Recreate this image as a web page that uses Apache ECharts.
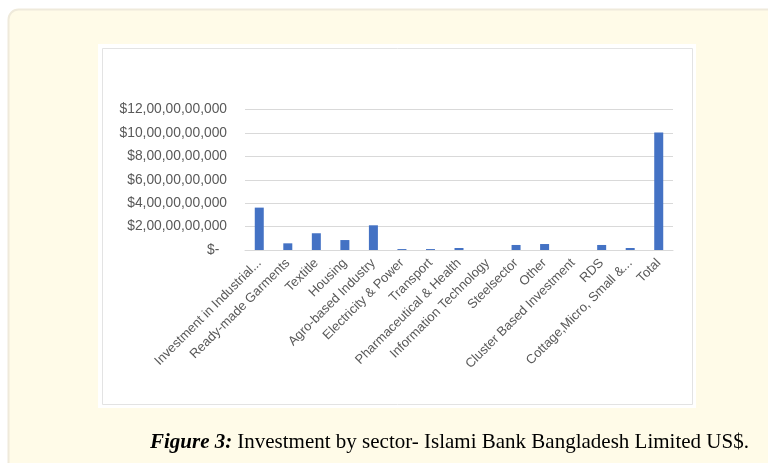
<!DOCTYPE html>
<html><head><meta charset="utf-8">
<script src="https://cdn.jsdelivr.net/npm/echarts@6/dist/echarts.min.js"></script>
<style>html,body{margin:0;padding:0;background:#fff;}#c{width:768px;height:463px;}</style>
</head><body><div id="c"></div>
<script>
const categories = ["Investment in Industrial...","Ready-made Garments","Textitle","Housing","Agro-based Industry","Electricity & Power","Transport","Pharmaceutical & Health","Information Technology","Steelsector","Other","Cluster Based Investment","RDS","Cottage,Micro, Small &...","Total"];
const values = [3620000000, 570000000, 1430000000, 850000000, 2110000000, 80000000, 80000000, 170000000, 0, 430000000, 510000000, 0, 430000000, 170000000, 10030000000];
const yTicks = {min: 0, max: 12000000000, interval: 2000000000};
const captionBold = "Figure 3:";
const captionText = "Investment by sector- Islami Bank Bangladesh Limited US$.";

function indian(n){
  if(n===0) return "$-  ";
  let s = String(Math.round(n));
  let last3 = s.slice(-3), rest = s.slice(0,-3);
  let parts = [];
  while(rest.length>2){ parts.unshift(rest.slice(-2)); rest = rest.slice(0,-2); }
  if(rest.length) parts.unshift(rest);
  return "$" + (parts.length ? parts.join(",") + "," : "") + last3;
}

const chart = echarts.init(document.getElementById('c'), null, {renderer:'canvas'});
chart.setOption({
  animation:false,
  backgroundColor:'#ffffff',
  graphic:[
    {type:'rect', z:-20, shape:{x:8.5,y:9.5,width:800,height:500,r:10}, style:{fill:'#fffbe8',stroke:'#efeadb',lineWidth:2}},
    {type:'rect', z:-15, shape:{x:98,y:44,width:598,height:364}, style:{fill:'#ffffff'}},
    {type:'rect', z:-14, shape:{x:102.5,y:48.5,width:590,height:356}, style:{fill:'#ffffff',stroke:'#e3e3e3',lineWidth:1}}
  ],
  title:{
    text:'{b|'+captionBold+'} {n|'+captionText+'}',
    left:145, top:427,
    textStyle:{fontWeight:'normal',rich:{
      b:{fontFamily:'Liberation Serif',fontSize:21,fontWeight:'bold',fontStyle:'italic',color:'#000'},
      n:{fontFamily:'Liberation Serif',fontSize:21,fontWeight:'normal',color:'#000'}
    }}
  },
  grid:{left:245,right:95,top:109.5,bottom:213,containLabel:false},
  xAxis:{
    type:'category', data:categories,
    axisLine:{lineStyle:{color:'#d9d9d9',width:1}},
    axisTick:{show:false},
    axisLabel:{rotate:45,interval:0,color:'#595959',fontFamily:'Liberation Sans',fontSize:13,margin:11}
  },
  yAxis:{
    type:'value', min:yTicks.min, max:yTicks.max, interval:yTicks.interval,
    axisLine:{show:false}, axisTick:{show:false},
    splitLine:{lineStyle:{color:'#d9d9d9',width:1}},
    axisLabel:{formatter:indian,color:'#595959',fontFamily:'Liberation Sans',fontSize:13.8,margin:18}
  },
  series:[{type:'bar',data:values,barWidth:9,itemStyle:{color:'#4472c4'}}]
});
</script></body></html>
